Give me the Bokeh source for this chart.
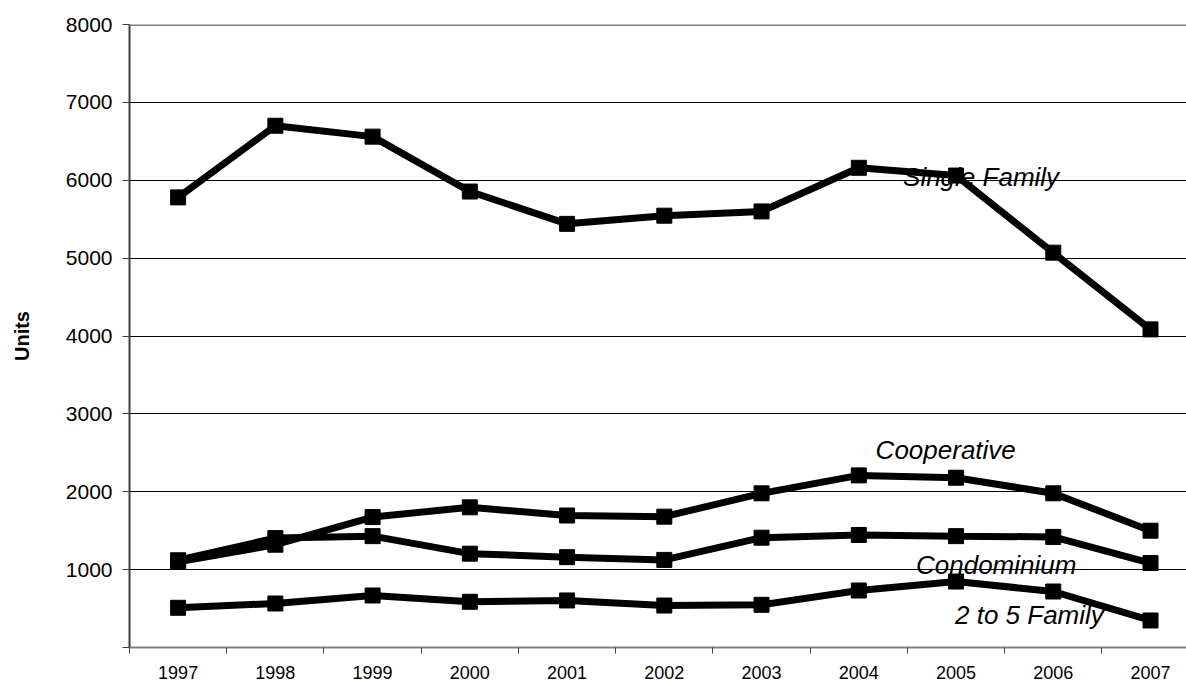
from bokeh.plotting import figure
from bokeh.models import Range1d, FixedTicker, Label, CustomJSTickFormatter, Span
from bokeh.embed import file_html
from bokeh.resources import INLINE

# ---- data ----
years = ["1997", "1998", "1999", "2000", "2001", "2002", "2003", "2004", "2005", "2006", "2007"]
single_family = [5780, 6700, 6560, 5855, 5440, 5545, 5600, 6160, 6060, 5070, 4085]
cooperative = [1100, 1320, 1675, 1800, 1695, 1680, 1980, 2210, 2180, 1980, 1500]
condominium = [1120, 1405, 1430, 1205, 1160, 1125, 1410, 1445, 1430, 1420, 1085]
two_to_five = [510, 565, 668, 587, 604, 539, 548, 732, 847, 719, 347]
y_ticks = [0, 1000, 2000, 3000, 4000, 5000, 6000, 7000, 8000]
y_max = 8000

FONT = "Liberation Sans"

xs = [i + 0.5 for i in range(len(years))]

p = figure(width=1186, height=681, output_backend="svg", toolbar_location=None,
           x_range=Range1d(0, 10.87), y_range=Range1d(0, y_max),
           min_border_left=129, min_border_right=0, min_border_top=24, min_border_bottom=34)
p.background_fill_color = "white"
p.border_fill_color = "white"
p.outline_line_color = None

# y axis
ya = p.yaxis[0]
ya.ticker = FixedTicker(ticks=y_ticks, minor_ticks=[])
ya.major_label_overrides = {0: ""}
ya.major_tick_out = 7
ya.major_tick_in = 0
ya.minor_tick_out = 0
ya.minor_tick_in = 0
ya.major_tick_line_color = "#404040"
ya.axis_line_color = "#404040"
ya.axis_line_width = 2
ya.major_label_text_font = FONT
ya.major_label_text_font_size = "21px"
ya.major_label_text_color = "black"
ya.major_label_standoff = 10
ya.axis_label = "Units"
ya.axis_label_text_font = FONT
ya.axis_label_text_font_size = "20px"
ya.axis_label_text_font_style = "bold"
ya.axis_label_text_color = "black"
ya.axis_label_standoff = 30

# x axis
xa = p.xaxis[0]
xa.ticker = FixedTicker(ticks=xs, minor_ticks=list(range(len(years) + 1)))
xa.formatter = CustomJSTickFormatter(args=dict(labels=years), code="""
    const i = Math.floor(tick);
    return (i >= 0 && i < labels.length) ? labels[i] : "";
""")
xa.major_tick_line_color = None
xa.major_tick_out = 0
xa.major_tick_in = 0
xa.minor_tick_out = 6
xa.minor_tick_in = 0
xa.minor_tick_line_color = "#404040"
xa.axis_line_color = "#808080"
xa.axis_line_width = 2
xa.major_label_text_font = FONT
xa.major_label_text_font_size = "18px"
xa.major_label_text_color = "black"
xa.major_label_standoff = 12

# grid
p.xgrid.grid_line_color = None
p.ygrid.ticker = FixedTicker(ticks=y_ticks[1:-1], minor_ticks=[])
p.ygrid.grid_line_color = "black"
p.ygrid.grid_line_width = 1

# top border of the plot area (grey, like the original)
p.add_layout(Span(location=y_max, dimension="width", line_color="#808080", line_width=3))

# series
for series in (single_family, cooperative, condominium, two_to_five):
    p.line(xs, series, line_width=7, line_color="black")
    p.scatter(xs, series, marker="square", size=15, fill_color="black", line_color="black")

# series labels
for text, lx, ly in (("Single Family", 7.955, 6048),
                     ("Cooperative", 7.673, 2530),
                     ("Condominium", 8.088, 1053),
                     ("2 to 5 Family", 8.489, 411)):
    p.add_layout(Label(x=lx, y=ly, text=text, text_font=FONT, text_font_size="26px",
                       text_font_style="italic", text_color="black",
                       text_baseline="alphabetic", text_align="left"))

open("out.html", "w").write(file_html(p, INLINE))
